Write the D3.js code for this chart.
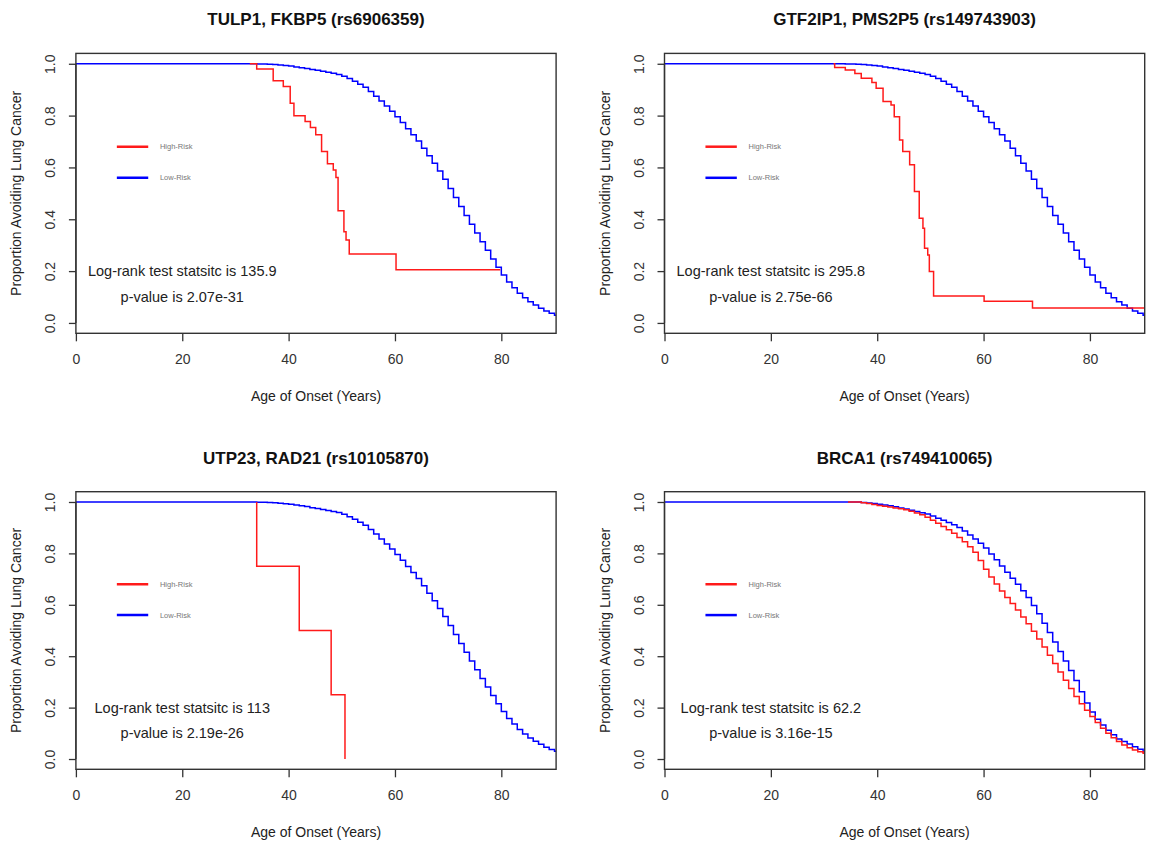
<!DOCTYPE html>
<html>
<head>
<meta charset="utf-8">
<script src="https://cdn.jsdelivr.net/npm/d3@7"></script>
<style>
  body { margin: 0; background: #fff; }
  svg { display: block; font-family: "Liberation Sans", Arial, sans-serif; }
</style>
</head>
<body>
<svg id="chart" width="1150" height="846"></svg>
<script>
const titles = [
  "TULP1, FKBP5 (rs6906359)",
  "GTF2IP1, PMS2P5 (rs149743903)",
  "UTP23, RAD21 (rs10105870)",
  "BRCA1 (rs749410065)",
];
const statValues = ["135.9", "295.8", "113", "62.2"];
const pValues = ["2.07e-31", "2.75e-66", "2.19e-26", "3.16e-15"];
const legendLabels = ["High-Risk", "Low-Risk"];
const xTicks = [0, 20, 40, 60, 80];
const yTicks = [0, 0.2, 0.4, 0.6, 0.8, 1.0];
const followUpEnd = 91;

// low-risk group, panels 1-3 (age of step, proportion after step)
const lowRiskAges = [0, 34, 35, 36, 37, 38, 39, 40, 41, 42, 43, 44, 45, 46, 47, 48, 49,
  50, 51, 52, 53, 54, 55, 56, 57, 58, 59, 60, 61, 62, 63, 64, 65, 66, 67, 68, 69,
  70, 71, 72, 73, 74, 75, 76, 77, 78, 79, 80, 81, 82, 83, 84, 85, 86, 87, 88, 89, 90];
const lowRiskSurv = [1, 0.999, 0.999, 0.998, 0.997, 0.995, 0.993, 0.991, 0.988, 0.985, 0.982, 0.978, 0.975, 0.971, 0.967, 0.963, 0.959,
  0.952, 0.943, 0.933, 0.921, 0.909, 0.893, 0.875, 0.856, 0.837, 0.817, 0.796, 0.773, 0.749, 0.726, 0.702, 0.674, 0.645, 0.616, 0.586, 0.554,
  0.519, 0.484, 0.449, 0.415, 0.381, 0.347, 0.313, 0.280, 0.247, 0.215, 0.185, 0.158, 0.136, 0.115, 0.097, 0.082, 0.069, 0.057, 0.046, 0.037, 0.030];

// high-risk groups
const high1Ages = [32.7, 34, 37.1, 39, 40.3, 41, 43.1, 44.1, 45.1, 46.2, 47.3, 48.4, 48.9, 49.3, 50.4, 50.8, 51.4, 60.2, 79.8];
const high1Surv = [1, 0.98, 0.934, 0.912, 0.848, 0.799, 0.777, 0.754, 0.726, 0.661, 0.614, 0.59, 0.561, 0.433, 0.352, 0.32, 0.266, 0.205, 0.205];

const high2Ages = [31.8, 32, 34, 35.8, 37, 39, 39.8, 41.1, 42.6, 43.2, 44.2, 44.8, 46.1, 47, 47.9, 48.6, 48.9, 49.5, 49.8, 50.6, 60.1, 69.2, 91];
const high2Surv = [1, 0.986, 0.976, 0.962, 0.944, 0.928, 0.906, 0.854, 0.841, 0.796, 0.706, 0.661, 0.610, 0.507, 0.404, 0.365, 0.288, 0.262, 0.198, 0.104, 0.084, 0.058, 0.058];

const high3Ages = [34, 34, 42, 48, 50.6];
const high3Surv = [1, 0.75, 0.5, 0.25, 0];

// BRCA1 panel
const brcaLowAges = [0, 37, 38, 39, 40, 41, 42, 43, 44, 45, 46, 47, 48, 49,
  50, 51, 52, 53, 54, 55, 56, 57, 58, 59, 60, 61, 62, 63, 64, 65, 66, 67, 68, 69,
  70, 71, 72, 73, 74, 75, 76, 77, 78, 79, 80, 81, 82, 83, 84, 85, 86, 87, 88, 89, 90];
const brcaLowSurv = [1, 0.998, 0.996, 0.994, 0.991, 0.988, 0.985, 0.981, 0.977, 0.973, 0.968, 0.963, 0.958, 0.953,
  0.945, 0.937, 0.929, 0.920, 0.911, 0.901, 0.887, 0.872, 0.856, 0.839, 0.821, 0.798, 0.775, 0.751, 0.727, 0.703, 0.680, 0.655, 0.628, 0.597,
  0.565, 0.528, 0.492, 0.455, 0.418, 0.381, 0.344, 0.305, 0.262, 0.218, 0.183, 0.155, 0.132, 0.112, 0.094, 0.078, 0.068, 0.058, 0.048, 0.038, 0.028];
const brcaHighAges = [34.5, 37, 38, 39, 40, 41, 42, 43, 44, 45, 46, 47, 48, 49,
  50, 51, 52, 53, 54, 55, 56, 57, 58, 59, 60, 61, 62, 63, 64, 65, 66, 67, 68, 69,
  70, 71, 72, 73, 74, 75, 76, 77, 78, 79, 80, 81, 82, 83, 84, 85, 86, 87, 88, 89, 90];
const brcaHighSurv = [1, 0.997, 0.994, 0.990, 0.986, 0.983, 0.980, 0.977, 0.974, 0.970, 0.964, 0.957, 0.950, 0.941,
  0.929, 0.917, 0.905, 0.892, 0.878, 0.862, 0.845, 0.826, 0.804, 0.772, 0.738, 0.708, 0.681, 0.654, 0.628, 0.605, 0.580, 0.553, 0.526, 0.497,
  0.467, 0.436, 0.404, 0.372, 0.339, 0.306, 0.274, 0.243, 0.215, 0.190, 0.165, 0.142, 0.120, 0.100, 0.083, 0.068, 0.055, 0.044, 0.035, 0.028, 0.022];

const zip = (a, b) => a.map((d, i) => [d, b[i]]);
function extend(pts) {
  // survival holds after last step until end of follow-up
  const last = pts[pts.length - 1];
  return last[0] < 90 ? pts.concat([[followUpEnd, last[1]]]) : pts.concat([[followUpEnd, last[1]]]);
}

const panelData = [
  { high: zip(high1Ages, high1Surv), low: extend(zip(lowRiskAges, lowRiskSurv)) },
  { high: zip(high2Ages, high2Surv), low: extend(zip(lowRiskAges, lowRiskSurv)) },
  { high: zip(high3Ages, high3Surv), low: extend(zip(lowRiskAges, lowRiskSurv)) },
  { high: extend(zip(brcaHighAges, brcaHighSurv)), low: extend(zip(brcaLowAges, brcaLowSurv)) },
];

// plot regions
const boxes = [
  { left: 75.9, top: 53.4, bottom: 333.3 },
  { left: 664.5, top: 53.4, bottom: 333.3 },
  { left: 75.9, top: 491.7, bottom: 769.3 },
  { left: 664.5, top: 491.7, bottom: 769.3 },
];
const boxWidth = 480.2;
const xMax = 90.3;

const svg = d3.select("#chart");

boxes.forEach((b, i) => {
  const x = d3.scaleLinear().domain([0, xMax]).range([b.left, b.left + boxWidth]);
  const y = d3.scaleLinear().domain([-0.04, 1.04]).range([b.bottom, b.top]);
  const g = svg.append("g");
  const clipId = "clip" + i;

  g.append("clipPath").attr("id", clipId)
    .append("rect")
    .attr("x", b.left).attr("y", b.top)
    .attr("width", boxWidth).attr("height", b.bottom - b.top);

  const line = d3.line()
    .x(d => x(d[0]))
    .y(d => y(d[1]))
    .curve(d3.curveStepAfter);

  const curves = g.append("g").attr("clip-path", `url(#${clipId})`);
  curves.append("path")
    .datum(panelData[i].low)
    .attr("d", line)
    .attr("fill", "none")
    .attr("stroke", "#0000ff")
    .attr("stroke-width", 1.5);
  curves.append("path")
    .datum(panelData[i].high)
    .attr("d", line)
    .attr("fill", "none")
    .attr("stroke", "#ff1a1a")
    .attr("stroke-width", 1.5);

  // frame
  g.append("rect")
    .attr("x", b.left).attr("y", b.top)
    .attr("width", boxWidth).attr("height", b.bottom - b.top)
    .attr("fill", "none")
    .attr("stroke", "#333")
    .attr("stroke-width", 1.4);

  // x axis
  const xa = g.append("g")
    .attr("transform", `translate(0,${b.bottom})`)
    .call(d3.axisBottom(x).tickValues(xTicks).tickSize(8).tickSizeOuter(0).tickPadding(13));
  xa.select(".domain").remove();
  xa.selectAll("line").attr("stroke", "#333").attr("stroke-width", 1.3);
  xa.selectAll("text").attr("font-size", 14).attr("fill", "#333")
    .attr("font-family", "Liberation Sans, Arial, sans-serif");

  // y axis
  const ya = g.append("g")
    .attr("transform", `translate(${b.left},0)`)
    .call(d3.axisLeft(y).tickValues(yTicks).tickSize(7).tickSizeOuter(0).tickFormat(d3.format(".1f")));
  ya.select(".domain").remove();
  ya.append("line")
    .attr("y1", y(0)).attr("y2", y(1))
    .attr("stroke", "#333").attr("stroke-width", 1.3);
  ya.selectAll("line").attr("stroke", "#333").attr("stroke-width", 1.3);
  ya.selectAll("text")
    .attr("x", 0).attr("dy", null)
    .attr("transform", "translate(-26,0) rotate(-90)")
    .attr("text-anchor", "middle")
    .attr("dominant-baseline", "central")
    .attr("font-size", 14).attr("fill", "#333")
    .attr("font-family", "Liberation Sans, Arial, sans-serif");

  // title
  g.append("text")
    .attr("x", b.left + boxWidth / 2)
    .attr("y", b.top - 33.5)
    .attr("text-anchor", "middle")
    .attr("dominant-baseline", "central")
    .attr("font-size", 17)
    .attr("font-weight", "bold")
    .attr("fill", "#111")
    .text(titles[i]);

  // axis titles
  g.append("text")
    .attr("x", b.left + boxWidth / 2)
    .attr("y", b.bottom + 63)
    .attr("text-anchor", "middle")
    .attr("dominant-baseline", "central")
    .attr("font-size", 14)
    .attr("fill", "#222")
    .text("Age of Onset (Years)");
  g.append("text")
    .attr("transform", `translate(${b.left - 60},${(b.top + b.bottom) / 2}) rotate(-90)`)
    .attr("text-anchor", "middle")
    .attr("dominant-baseline", "central")
    .attr("font-size", 14)
    .attr("fill", "#222")
    .text("Proportion Avoiding Lung Cancer");

  // legend
  const legColors = ["#ff1a1a", "#0000ff"];
  const legY = [0.68, 0.56];
  legendLabels.forEach((lab, k) => {
    g.append("line")
      .attr("x1", x(7.7)).attr("x2", x(13.6))
      .attr("y1", y(legY[k])).attr("y2", y(legY[k]))
      .attr("stroke", legColors[k]).attr("stroke-width", 2.5);
    g.append("text")
      .attr("x", x(15.8)).attr("y", y(legY[k]))
      .attr("dominant-baseline", "central")
      .attr("font-size", 7.5)
      .attr("fill", "#777")
      .text(lab);
  });

  // log-rank annotation
  g.append("text")
    .attr("x", x(20)).attr("y", y(0.2))
    .attr("text-anchor", "middle")
    .attr("dominant-baseline", "central")
    .attr("font-size", 14.5)
    .attr("fill", "#222")
    .text("Log-rank test statsitc is " + statValues[i]);
  g.append("text")
    .attr("x", x(20)).attr("y", y(0.1))
    .attr("text-anchor", "middle")
    .attr("dominant-baseline", "central")
    .attr("font-size", 14.5)
    .attr("fill", "#222")
    .text("p-value is " + pValues[i]);
});
</script>
</body>
</html>
